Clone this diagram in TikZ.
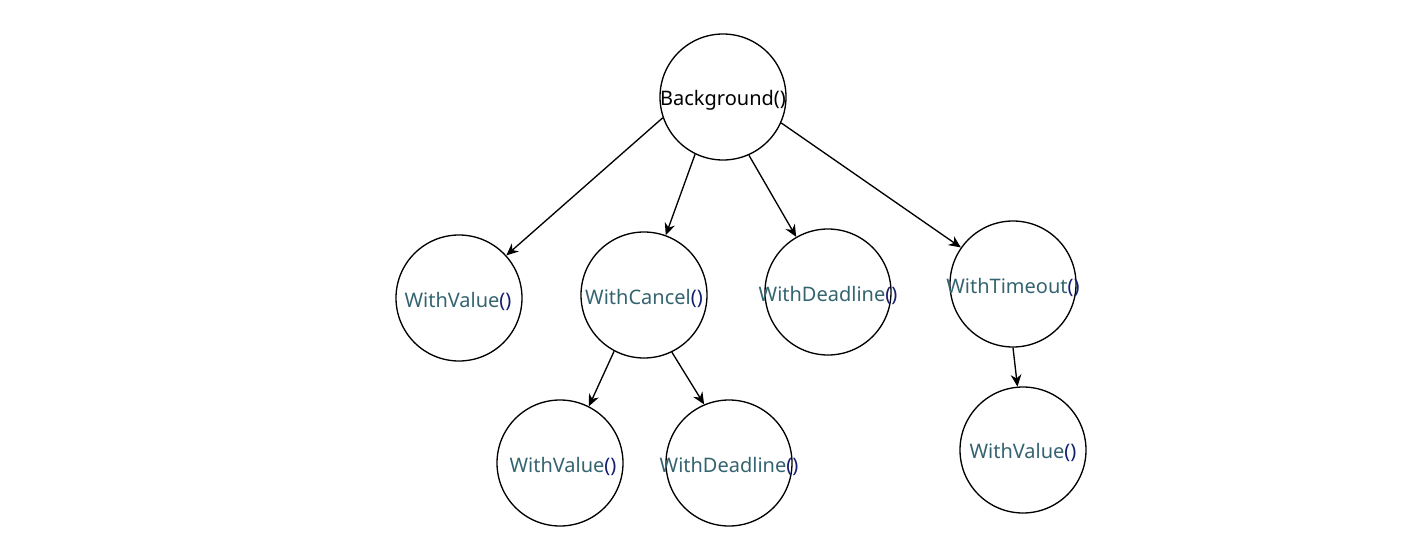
\documentclass[tikz,border=0pt]{standalone}
\usepackage{fontspec}
\setmainfont{Noto Sans}
\usetikzlibrary{arrows.meta}
\definecolor{lbl}{RGB}{52,100,112}
\definecolor{par}{RGB}{20,30,110}
\tikzset{
  ctx/.style={circle,draw=black,line width=1pt,minimum size=94.5pt,inner sep=0pt},
  lab/.style={font=\fontsize{15}{17}\selectfont,text=lbl,inner sep=0pt},
  conn/.style={line width=1pt,-{Stealth[length=9pt,width=8pt]}}
}
\newcommand{\fn}[1]{#1\textcolor{par}{()}}
\begin{document}
\begin{tikzpicture}[x=0.75pt,y=-0.75pt]
\useasboundingbox (0,0) rectangle (1407,553);
\node[ctx] (bg) at (723,97) {};
\node[ctx] (wv1) at (459,298) {};
\node[ctx] (wc) at (644,295) {};
\node[ctx] (wd1) at (828,292) {};
\node[ctx] (wt) at (1013,284) {};
\node[ctx] (wv2) at (560,463) {};
\node[ctx] (wd2) at (729,463) {};
\node[ctx] (wv3) at (1023,450) {};
\node[lab,text=black] (tbg) at (723,100) {Background()};
\node[lab] (twv1) at (458,301) {\fn{WithValue}};
\node[lab] (twc) at (644,298) {\fn{WithCancel}};
\node[lab] (twd1) at (828,295) {\fn{WithDeadline}};
\node[lab] (twt) at (1013,287) {\fn{WithTimeout}};
\node[lab] (twv2) at (563,466) {\fn{WithValue}};
\node[lab] (twd2) at (729,466) {\fn{WithDeadline}};
\node[lab] (twv3) at (1023,452) {\fn{WithValue}};
\draw[conn] (bg.199) -- (wv1.42);
\draw[conn] (bg.244) -- (wc.70);
\draw[conn] (bg.294) -- (wd1.120);
\draw[conn] (bg.336) -- (wt.145);
\draw[conn] (wc.242) -- (wv2.63);
\draw[conn] (wc.296) -- (wd2.113);
\draw[conn] (wt.270) -- (wv3.95);
\end{tikzpicture}
\end{document}
